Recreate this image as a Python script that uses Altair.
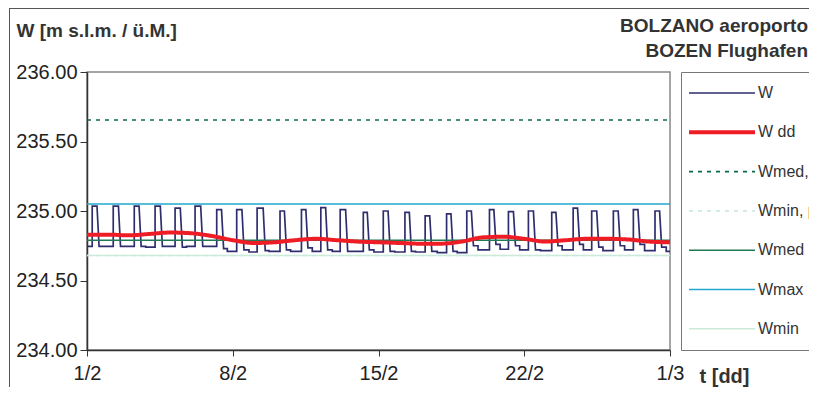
import altair as alt
import pandas as pd

# ---------------- data ----------------
series_names = ["W", "W dd", "Wmed, periodo", "Wmin, periodo", "Wmed", "Wmax", "Wmin"]
series_colors = ["#2e2e6e", "#ee1c25", "#0b6b45", "#cfe9dc", "#1f7a55", "#22a7cf", "#cbead9"]
series_dash = [[1, 0], [1, 0], [4, 5], [4, 5], [1, 0], [1, 0], [1, 0]]
series_width = [1.7, 4.0, 1.6, 1.6, 1.6, 1.6, 1.6]

# reference levels (m s.l.m.)
ref_levels = {"Wmed, periodo": 235.655, "Wmin, periodo": 234.68,
              "Wmed": 234.79, "Wmax": 235.05, "Wmin": 234.68}

title_lines = ["BOLZANO aeroporto", "BOZEN Flughafen"]

# W: one pulse per day (fractions of the day, levels in m)
w_rise = [0.25, 0.26, 0.27, 0.27, 0.23, 0.19, 0.23,
          0.19, 0.17, 0.27, 0.30, 0.23, 0.16, 0.27,
          0.23, 0.27, 0.24, 0.27, 0.24, 0.33, 0.24,
          0.20, 0.32, 0.35, 0.24, 0.28, 0.24, 0.28]
w_high = [235.035, 235.035, 235.035, 235.035, 235.02, 235.035, 235.01,
          235.01, 235.02, 235.0, 235.01, 235.025, 235.01, 234.99,
          235.0, 234.99, 234.965, 234.98, 235.0, 235.01, 234.995,
          235.0, 234.99, 235.02, 235.0, 235.0, 235.01, 235.0]
w_fall = [0.58, 0.61, 0.60, 0.62, 0.58, 0.56, 0.56,
          0.54, 0.56, 0.58, 0.61, 0.56, 0.52, 0.56,
          0.56, 0.58, 0.56, 0.58, 0.56, 0.64, 0.58,
          0.54, 0.62, 0.66, 0.58, 0.61, 0.56, 0.60]
w_low1 = [234.745, 234.745, 234.745, 234.745, 234.74, 234.745, 234.73,
          234.72, 234.715, 234.72, 234.735, 234.72, 234.71, 234.72,
          234.71, 234.71, 234.71, 234.71, 234.75, 234.76, 234.75,
          234.72, 234.75, 234.76, 234.74, 234.75, 234.76, 234.74]
w_step = [0.78, 0.78, 0.82, 0.78, 0.78, 0.78, 0.74,
          0.78, 0.74, 0.78, 0.82, 0.78, 0.74, 0.78,
          0.78, 0.78, 0.82, 0.78, 0.78, 0.84, 0.78,
          0.78, 0.82, 0.84, 0.78, 0.82, 0.78, 0.82]
w_low2 = [234.745, 234.745, 234.74, 234.745, 234.745, 234.745, 234.71,
          234.705, 234.71, 234.71, 234.71, 234.71, 234.71, 234.705,
          234.705, 234.705, 234.70, 234.70, 234.72, 234.725, 234.72,
          234.715, 234.72, 234.72, 234.715, 234.72, 234.715, 234.71]

# W dd: daily mean values, day 0 .. 28
wdd_day = list(range(29))
wdd_val = [234.83, 234.83, 234.825, 234.835, 234.845, 234.84, 234.82,
           234.79, 234.77, 234.775, 234.79, 234.80, 234.79, 234.78,
           234.775, 234.77, 234.765, 234.765, 234.78, 234.81, 234.815,
           234.80, 234.78, 234.79, 234.80, 234.80, 234.795, 234.78, 234.775]

x_tick_values = [0, 7, 14, 21, 28]
x_tick_labels = ["1/2", "8/2", "15/2", "22/2", "1/3"]
y_tick_values = [234.0, 234.5, 235.0, 235.5, 236.0]

# ---------------- build tables ----------------
rows = []
idx = 0
def add(s, t, v):
    global idx
    rows.append({"series": s, "t": t, "v": v, "i": idx})
    idx += 1

add("W", 0.0, w_low2[0])
for d in range(28):
    prev_low = w_low2[d - 1] if d > 0 else w_low2[0]
    add("W", d + w_rise[d], prev_low)
    add("W", d + w_rise[d], w_high[d])
    add("W", d + w_fall[d] - 0.1, w_high[d])
    add("W", d + w_fall[d], w_low1[d])
    add("W", d + w_step[d], w_low1[d])
    add("W", d + w_step[d], w_low2[d])
add("W", 28.0, w_low2[-1])

for s, lv in ref_levels.items():
    add(s, 0.0, lv)
    add(s, 28.0, lv)

df_lines = pd.DataFrame(rows)
df_wdd = pd.DataFrame({"series": "W dd", "t": wdd_day, "v": wdd_val, "i": range(len(wdd_day))})
df_one = pd.DataFrame({"a": [0]})

label_expr = "[" + ",".join(f"'{l}'" for l in x_tick_labels) + "][indexof(" + str(x_tick_values) + ", datum.value)]"

font = "Liberation Sans"
x_enc = alt.X("t:Q", scale=alt.Scale(domain=[0, 28], nice=False, zero=False),
              axis=alt.Axis(values=x_tick_values, labelExpr=label_expr, title="t [dd]",
                            titleAngle=0, titleAlign="left", titleBaseline="middle",
                            titleX=612, titleY=26, titleFontSize=20, titleFontWeight="bold",
                            labelFontSize=20, labelPadding=17, tickSize=6, grid=False,
                            labelFlush=False, labelBaseline="middle",
                            domainColor="#333", tickColor="#333", domainWidth=1.5))
y_enc = alt.Y("v:Q", scale=alt.Scale(domain=[234, 236], nice=False, zero=False),
              axis=alt.Axis(values=y_tick_values, format=".2f", title="W [m s.l.m. / ü.M.]",
                            titleAngle=0, titleAlign="left", titleBaseline="middle",
                            titleX=-71, titleY=-42, titleFontSize=19, titleFontWeight="bold",
                            labelFontSize=20, labelPadding=3, tickSize=7, grid=False,
                            labelFlush=False,
                            domainColor="#333", tickColor="#333", domainWidth=1.5))

color_enc = alt.Color("series:N", scale=alt.Scale(domain=series_names, range=series_colors),
                      legend=alt.Legend(orient="none", legendX=594, legendY=0, title=None,
                                        symbolType="stroke", symbolSize=4356, clipHeight=30,
                                        labelFontSize=16, labelOffset=1, rowPadding=9.3,
                                        padding=6, strokeColor="#777", fillColor="white",
                                        labelColor="#333"))
dash_enc = alt.StrokeDash("series:N", scale=alt.Scale(domain=series_names, range=series_dash), legend=None)
width_enc = alt.StrokeWidth("series:N", scale=alt.Scale(type="ordinal", domain=series_names, range=series_width), legend=None)

lines = alt.Chart(df_lines).mark_line().encode(
    x=x_enc, y=y_enc, color=color_enc, strokeDash=dash_enc, strokeWidth=width_enc, order="i:Q")
wdd = alt.Chart(df_wdd).mark_line(interpolate="monotone").encode(
    x=x_enc, y=y_enc, color=color_enc, strokeDash=dash_enc, strokeWidth=width_enc, order="i:Q")

frame_top = alt.Chart(df_one).mark_rule(color="#555", strokeWidth=1).encode(
    x=alt.value(-78), x2=alt.value(740), y=alt.value(-63.5))
frame_left = alt.Chart(df_one).mark_rule(color="#555", strokeWidth=1).encode(
    x=alt.value(-77.5), y=alt.value(-64), y2=alt.value(330))
title1 = alt.Chart(df_one).mark_text(align="right", baseline="alphabetic", fontSize=19,
                                     fontWeight="bold", color="#333", font=font).encode(
    x=alt.value(721), y=alt.value(-40), text=alt.value(title_lines[0]))
title2 = alt.Chart(df_one).mark_text(align="right", baseline="alphabetic", fontSize=19,
                                     fontWeight="bold", color="#333", font=font).encode(
    x=alt.value(721), y=alt.value(-15), text=alt.value(title_lines[1]))

chart = alt.layer(frame_top, frame_left, title1, title2, lines, wdd).properties(
    width=583, height=278,
    padding={"left": 79, "top": 64, "right": 139, "bottom": 37},
    autosize=alt.AutoSizeParams(type="none"),
).configure(font=font).configure_axis(
    labelFont=font, titleFont=font, labelColor="#222", titleColor="#333"
).configure_view(stroke="#888", strokeWidth=1.5).configure_legend(labelFont=font)

chart.save("out.html", embed_options={"renderer": "svg", "actions": False})
